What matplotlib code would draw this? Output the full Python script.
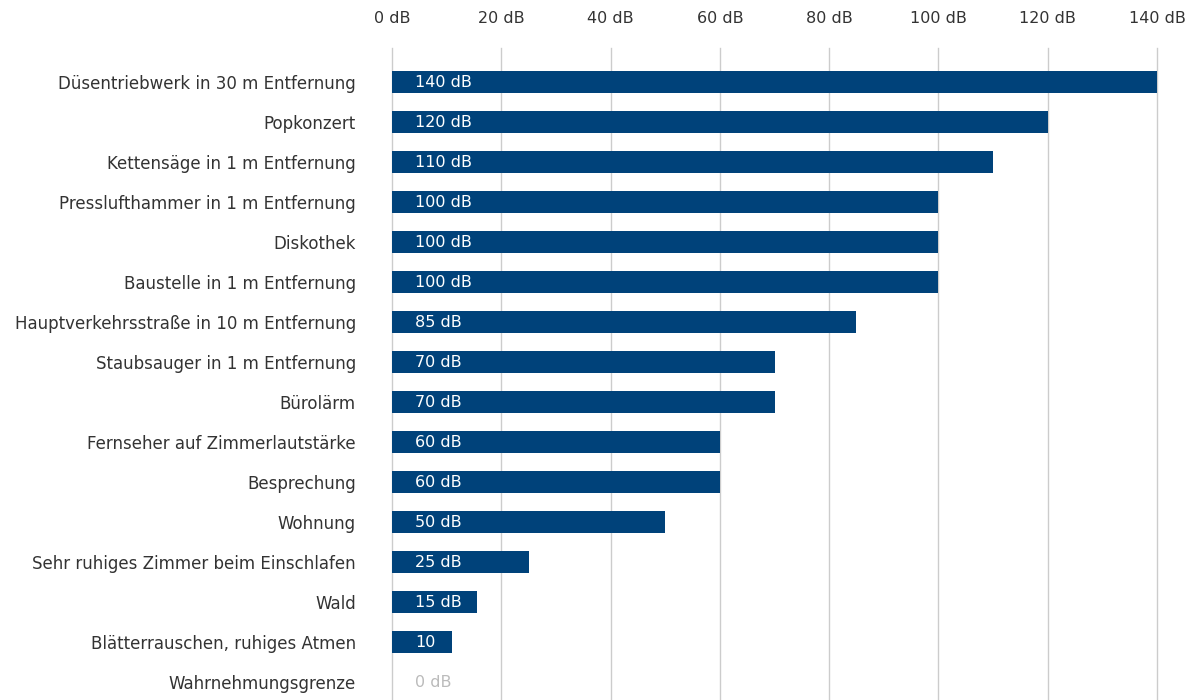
import matplotlib
matplotlib.use("Agg")
import matplotlib.pyplot as plt

categories = [
    "Düsentriebwerk in 30 m Entfernung",
    "Popkonzert",
    "Kettensäge in 1 m Entfernung",
    "Presslufthammer in 1 m Entfernung",
    "Diskothek",
    "Baustelle in 1 m Entfernung",
    "Hauptverkehrsstraße in 10 m Entfernung",
    "Staubsauger in 1 m Entfernung",
    "Bürolärm",
    "Fernseher auf Zimmerlautstärke",
    "Besprechung",
    "Wohnung",
    "Sehr ruhiges Zimmer beim Einschlafen",
    "Wald",
    "Blätterrauschen, ruhiges Atmen",
    "Wahrnehmungsgrenze",
]
values = [140, 120, 110, 100, 100, 100, 85, 70, 70, 60, 60, 50, 25, 15.5, 11, 0]
bar_labels = ["140 dB", "120 dB", "110 dB", "100 dB", "100 dB", "100 dB", "85 dB",
              "70 dB", "70 dB", "60 dB", "60 dB", "50 dB", "25 dB", "15 dB", "10", "0 dB"]
ticks = [0, 20, 40, 60, 80, 100, 120, 140]
tick_labels = [f"{t} dB" for t in ticks]

plt.rcParams['font.family'] = ['DejaVu Sans']

W, H = 1192, 700
fig = plt.figure(figsize=(W / 100, H / 100), dpi=100)
ax = fig.add_axes([392 / W, 0, (1157 - 392) / W, (700 - 48) / H])

bar_color = "#00427a"
y = list(range(len(categories)))
ax.barh(y, values, height=0.56, color=bar_color, zorder=2)

for i, (v, lab) in enumerate(zip(values, bar_labels)):
    col = "white" if v > 0 else "#bbbbbb"
    ax.text(4.2, i - 0.03, lab, va="center_baseline", ha="left", color=col, fontsize=11.5, zorder=3)

ax.set_xlim(0, 140)
ax.set_ylim(len(categories) - 0.55, -0.85)
ax.set_yticks(y)
ax.set_yticklabels(categories)
ax.set_xticks(ticks)
ax.set_xticklabels(tick_labels)
ax.xaxis.tick_top()
ax.tick_params(axis="x", length=0, pad=16, labelsize=11.5, labelcolor="#333333")
ax.tick_params(axis="y", length=0, pad=26, labelsize=12, labelcolor="#333333")
ax.grid(axis="x", color="#cccccc", linewidth=1, zorder=0)
for gl in ax.get_xgridlines():
    gl.set_clip_on(False)
ax.set_axisbelow(True)
for s in ax.spines.values():
    s.set_visible(False)

fig.savefig("out.png", dpi=100)
